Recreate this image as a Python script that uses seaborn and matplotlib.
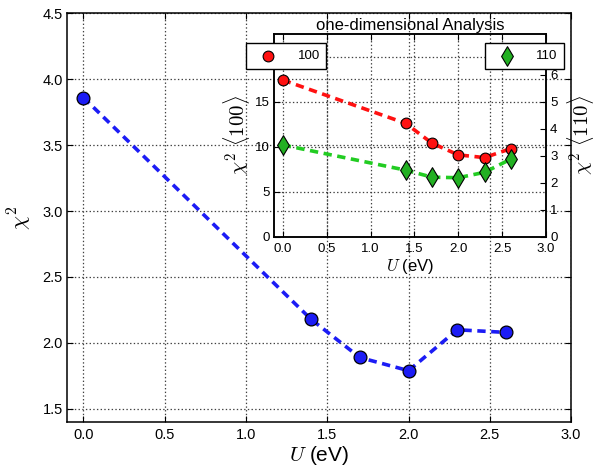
import numpy as np
import matplotlib
matplotlib.use('Agg')
import matplotlib.pyplot as plt
import seaborn as sns

# main curve
u_main = [0.0, 1.4, 1.7, 2.0, 2.3, 2.6]
chi2_main = [3.86, 2.18, 1.89, 1.79, 2.10, 2.08]

# inset: one-dimensional analysis
u_1d = [0.0, 1.4, 1.7, 2.0, 2.3, 2.6]
chi2_100 = [17.4, 12.6, 10.4, 9.1, 8.8, 9.8]
chi2_110 = [3.4, 2.47, 2.21, 2.19, 2.39, 2.88]

x_ticks = [0.0, 0.5, 1.0, 1.5, 2.0, 2.5, 3.0]
y_ticks_main = [1.5, 2.0, 2.5, 3.0, 3.5, 4.0, 4.5]
y_ticks_100 = [0, 5, 10, 15, 20]
y_ticks_110 = [0, 1, 2, 3, 4, 5, 6, 7]
y_labels_110 = ['0', '1', '2', '3', '4', '5', '6', '']

plt.rcParams['font.family'] = ['Liberation Sans', 'DejaVu Sans']
plt.rcParams['mathtext.fontset'] = 'cm'
plt.rcParams['xtick.direction'] = 'in'
plt.rcParams['ytick.direction'] = 'in'
plt.rcParams['xtick.major.size'] = 4.5
plt.rcParams['ytick.major.size'] = 4.5
plt.rcParams['xtick.major.pad'] = 4
plt.rcParams['ytick.major.pad'] = 3
plt.rcParams['axes.linewidth'] = 1.1
plt.rcParams['lines.scale_dashes'] = False
plt.rcParams['lines.dashed_pattern'] = [6.0, 4.0]

fig = plt.figure(figsize=(6.05, 4.68), dpi=100)
ax = fig.add_axes([0.111, 0.098, 0.833, 0.874])

sns.lineplot(x=u_main, y=chi2_main, ax=ax, color='#1c1cf5', lw=2.6,
             linestyle='--', legend=False, zorder=2)
sns.scatterplot(x=u_main, y=chi2_main, ax=ax, color='#1c1cf5', s=85,
                edgecolor='k', linewidth=0.9, legend=False, zorder=3)

ax.set_xlim(-0.1, 3.0)
ax.set_ylim(1.4, 4.5)
ax.set_xticks(x_ticks)
ax.set_yticks(y_ticks_main)
ax.tick_params(labelsize=10.5, top=True, right=True)
ax.grid(True, linestyle=':', color='0.25', linewidth=0.9)
ax.set_xlabel(r'$U$ (eV)', fontsize=15, labelpad=2)
ax.set_ylabel(r'$\chi^2$', fontsize=16, labelpad=6)

# inset
ax_in = fig.add_axes([0.4529, 0.4936, 0.4496, 0.4338])
ax_in.set_facecolor('none')
ax2 = ax_in.twinx()

sns.lineplot(x=u_1d, y=chi2_100, ax=ax_in, color='#ff1111', lw=2.6,
             linestyle='--', legend=False, zorder=2)
sns.scatterplot(x=u_1d, y=chi2_100, ax=ax_in, color='#ff1111', s=60,
                marker='o', edgecolor='k', linewidth=0.8, label='100',
                legend=False, zorder=3)

sns.lineplot(x=u_1d, y=chi2_110, ax=ax2, color='#22cc22', lw=2.6,
             linestyle='--', legend=False, zorder=2)
sns.scatterplot(x=u_1d, y=chi2_110, ax=ax2, color='#22b022', s=100,
                marker='d', edgecolor='k', linewidth=0.8, label='110',
                legend=False, zorder=3)

ax_in.set_xlim(-0.1, 3.0)
ax_in.set_ylim(0, 22.5)
ax2.set_ylim(0, 7.5)
ax_in.set_xticks(x_ticks)
ax_in.set_yticks(y_ticks_100)
ax2.set_yticks(y_ticks_110)
ax2.set_yticklabels(y_labels_110)
ax_in.tick_params(labelsize=9.5, top=True)
ax2.tick_params(labelsize=9.5)
ax_in.grid(True, linestyle=':', color='0.25', linewidth=0.9)
ax_in.set_xlabel(r'$U$ (eV)', fontsize=12, labelpad=2)
ax_in.set_ylabel(r'$\chi^2\ \langle 100\rangle$', fontsize=15, labelpad=2)
ax2.set_ylabel(r'$\chi^2\ \langle 110\rangle$', fontsize=15, labelpad=5)
ax_in.set_title('one-dimensional Analysis', fontsize=12, pad=3)

h1, l1 = ax_in.get_legend_handles_labels()
h2, l2 = ax2.get_legend_handles_labels()
leg_kw = dict(loc='center', fontsize=9.5, fancybox=False, edgecolor='k',
              framealpha=1, handlelength=2.4, handletextpad=1.0,
              borderpad=0.5, scatterpoints=1)
leg1 = fig.legend(h1, l1, bbox_to_anchor=(0.473, 0.880), **leg_kw)
leg2 = fig.legend(h2, l2, bbox_to_anchor=(0.867, 0.880), **leg_kw)
for lg in (leg1, leg2):
    lg.get_frame().set_linewidth(1.0)

fig.savefig('out.png', dpi=100)
